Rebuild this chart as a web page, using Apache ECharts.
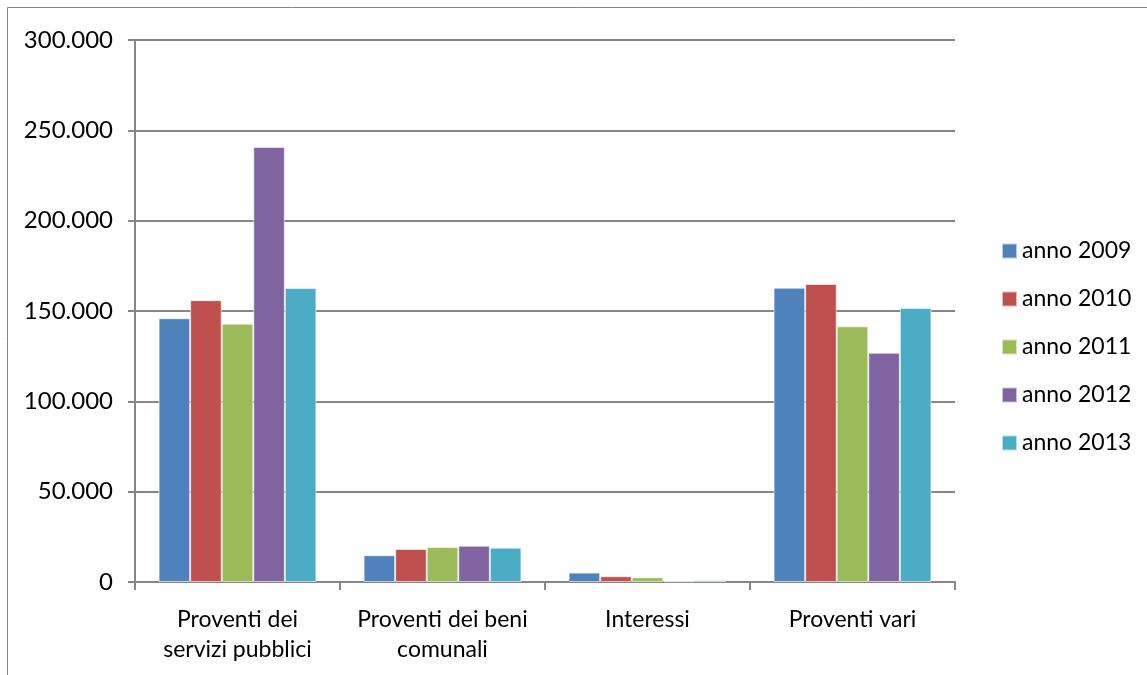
<!DOCTYPE html>
<html>
<head>
<meta charset="utf-8">
<script src="https://cdn.jsdelivr.net/npm/echarts@6/dist/echarts.min.js"></script>
<style>
  html, body { margin: 0; padding: 0; background: #fff; }
  #chart { width: 1147px; height: 675px; }
</style>
</head>
<body>
<div id="chart"></div>
<script>
// categorie e valori
const categories = ['Proventi dei\nservizi pubblici', 'Proventi dei beni\ncomunali', 'Interessi', 'Proventi vari']
const seriesNames = ['anno 2009', 'anno 2010', 'anno 2011', 'anno 2012', 'anno 2013']
const colors = ['#4f81bd', '#c0504d', '#9bbb59', '#8064a2', '#4bacc6']

const anno2009 = [146000, 14800, 5200, 162900]
const anno2010 = [156000, 18300, 3200, 165000]
const anno2011 = [143000, 19400, 2600, 141500]
const anno2012 = [240800, 20100, 500, 126900]
const anno2013 = [162700, 19000, 1000, 151700]
const seriesData = [anno2009, anno2010, anno2011, anno2012, anno2013]

const font = 'Lato, "Open Sans", sans-serif'
const gridColor = '#868686'

const fmt = (v) => String(v).replace(/\B(?=(\d{3})+(?!\d))/g, '.')

const chart = echarts.init(document.getElementById('chart'))
chart.setOption({
  animation: false,
  graphic: [{
    type: 'rect',
    shape: { x: 7.5, y: 7.5, width: 1160, height: 700 },
    style: { fill: 'none', stroke: gridColor, lineWidth: 1 }
  }],
  grid: { left: 135, right: 192, top: 40, bottom: 93, containLabel: false },
  legend: {
    orient: 'vertical',
    left: 996,
    top: 234,
    itemWidth: 15,
    itemHeight: 15,
    itemGap: 24,
    icon: 'rect',
    textStyle: { fontFamily: font, fontSize: 23, lineHeight: 24, color: '#000', padding: [0, 0, 0, 0] },
    data: seriesNames
  },
  xAxis: {
    type: 'category',
    data: categories,
    axisLine: { lineStyle: { color: gridColor, width: 2 } },
    axisTick: { show: true, length: 8, lineStyle: { color: gridColor, width: 2 } },
    axisLabel: { interval: 0, fontFamily: font, fontSize: 23, color: '#000', lineHeight: 30, margin: 23 }
  },
  yAxis: {
    type: 'value',
    min: 0,
    max: 300000,
    interval: 50000,
    axisLine: { show: true, lineStyle: { color: gridColor, width: 2 } },
    axisTick: { show: true, length: 7, lineStyle: { color: gridColor, width: 2 } },
    splitLine: { lineStyle: { color: gridColor, width: 2 } },
    axisLabel: { fontFamily: font, fontSize: 24, color: '#000', margin: 22, formatter: fmt }
  },
  series: seriesNames.map((name, i) => ({
    name,
    type: 'bar',
    data: seriesData[i],
    barGap: '0%',
    barCategoryGap: '23%',
    itemStyle: { color: colors[i], borderColor: 'rgba(255,255,255,0.6)', borderWidth: 1 }
  }))
})
</script>
</body>
</html>
